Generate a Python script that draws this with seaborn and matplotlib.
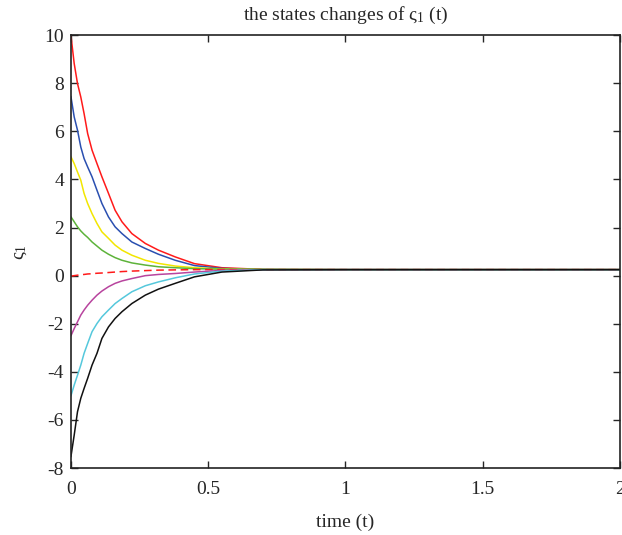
import numpy as np
import pandas as pd
import matplotlib
matplotlib.use("Agg")
import matplotlib.pyplot as plt
import seaborn as sns

# time samples
t = [0, 0.012, 0.024, 0.036, 0.048, 0.061, 0.077, 0.095, 0.113, 0.137,
     0.161, 0.186, 0.222, 0.271, 0.319, 0.38, 0.45, 0.55, 0.7, 1.0, 2.0]

# states, one list per initial value
red = [10.0, 8.82, 7.99, 7.43, 6.74, 5.91, 5.22, 4.66, 4.11, 3.42,
       2.72, 2.24, 1.75, 1.34, 1.06, 0.78, 0.5, 0.33, 0.26, 0.25, 0.25]
blue = [7.45, 6.6, 6.05, 5.35, 4.87, 4.52, 4.11, 3.55, 3.0, 2.44,
        2.03, 1.75, 1.4, 1.13, 0.89, 0.64, 0.42, 0.3, 0.26, 0.25, 0.25]
yellow = [4.95, 4.66, 4.31, 3.97, 3.42, 3.0, 2.58, 2.17, 1.82, 1.55,
          1.27, 1.06, 0.85, 0.64, 0.51, 0.4, 0.33, 0.28, 0.26, 0.25, 0.25]
green = [2.45, 2.24, 2.03, 1.86, 1.72, 1.59, 1.4, 1.23, 1.06, 0.89,
         0.75, 0.64, 0.53, 0.44, 0.37, 0.33, 0.29, 0.27, 0.26, 0.25, 0.25]
dashed = [-0.02, 0.0, 0.02, 0.04, 0.05, 0.07, 0.08, 0.1, 0.11, 0.13,
          0.15, 0.17, 0.19, 0.21, 0.23, 0.24, 0.25, 0.25, 0.25, 0.25, 0.25]
magenta = [-2.5, -2.2, -1.92, -1.64, -1.43, -1.23, -1.02, -0.81, -0.64, -0.46,
           -0.32, -0.22, -0.12, 0.0, 0.05, 0.09, 0.15, 0.22, 0.25, 0.25, 0.25]
cyan = [-5.0, -4.55, -4.14, -3.72, -3.23, -2.82, -2.33, -1.99, -1.71, -1.43,
        -1.16, -0.95, -0.67, -0.42, -0.26, -0.09, 0.07, 0.19, 0.25, 0.25, 0.25]
black = [-7.53, -6.63, -5.66, -5.1, -4.69, -4.27, -3.72, -3.23, -2.61, -2.13,
         -1.78, -1.5, -1.16, -0.81, -0.56, -0.32, -0.05, 0.15, 0.24, 0.25, 0.25]

series = [
    (red, "#ff1a1a", "-"),
    (blue, "#2a4fb0", "-"),
    (yellow, "#f2e600", "-"),
    (green, "#5db33a", "-"),
    (dashed, "#ff1a1a", (0, (5, 3))),
    (magenta, "#b8449e", "-"),
    (cyan, "#55c8dc", "-"),
    (black, "#111111", "-"),
]

sns.set_style("ticks")
plt.rcParams["font.family"] = ["Liberation Serif", "DejaVu Serif"]
plt.rcParams["mathtext.fontset"] = "custom"
plt.rcParams["mathtext.rm"] = "Liberation Serif"
plt.rcParams["mathtext.it"] = "Liberation Serif"
plt.rcParams["axes.unicode_minus"] = False

fig = plt.figure(figsize=(6.22, 5.35), dpi=100)
ax = fig.add_axes([0.114, 0.1252, 0.8826, 0.809])

for vals, color, ls in series:
    sns.lineplot(x=t, y=vals, color=color, linestyle=ls, linewidth=1.1, ax=ax)

ax.set_xlim(0, 2)
ax.set_ylim(-8, 10)
ax.set_xticks([0, 0.5, 1, 1.5, 2])
ax.set_xticklabels(["0", "0.5", "1", "1.5", "2"])
ax.set_yticks(np.arange(-8, 11, 2))
ax.tick_params(direction="in", top=True, right=True, labelsize=14, length=5, width=1, pad=5)
ax.tick_params(axis="x", pad=9)
for sp in ax.spines.values():
    sp.set_linewidth(1.2)
    sp.set_color("#222222")

ax.set_title("the states changes of ς$_1$ (t)", fontsize=14, pad=11)
ax.set_xlabel("time (t)", fontsize=14, labelpad=12)
ax.set_ylabel("ς$_1$", fontsize=14, labelpad=11)

fig.savefig("out.png", dpi=100)
